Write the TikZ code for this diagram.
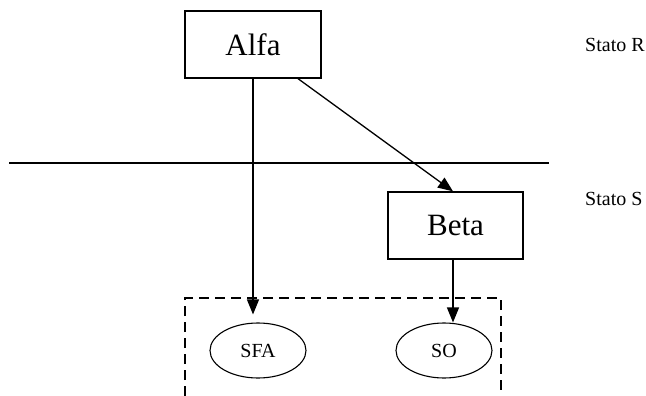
\documentclass[tikz,border=0pt]{standalone}
\usepackage{fontspec}
\setmainfont{Liberation Serif}
\usetikzlibrary{shapes.geometric}
\usetikzlibrary{arrows.meta}
\tikzset{statebox/.style={draw,line width=1.3pt,minimum width=136pt,minimum height=67pt,inner sep=0pt,font=\fontsize{31}{31}\selectfont},
         setnode/.style={draw,ellipse,line width=1.1pt,minimum width=96pt,minimum height=55pt,inner sep=0pt,font=\fontsize{20}{20}\selectfont},
         statelabel/.style={anchor=base west,inner sep=0pt,font=\fontsize{20}{20}\selectfont},
         link/.style={line width=1.3pt,-{Triangle[length=15pt,width=12pt]}},
         }

\begin{document}
\begin{tikzpicture}[x=1pt,y=-1pt]
\useasboundingbox (0,0) rectangle (646,396);
\node[statebox] (alfa) at (253,44.5) {Alfa};
\node[statebox,minimum width=135pt] (beta) at (455.5,225.5) {Beta};
\node[setnode] (sfa) at (258,350.5) {SFA};
\node[setnode] (so) at (444,350.5) {SO};
\node[statelabel] (statoR) at (585,52) {Stato R};
\node[statelabel] (statoS) at (585,205) {Stato S};
% linea di separazione
\draw[line width=1.3pt] (9,163) -- (549,163);
% area tratteggiata
\draw[line width=1.3pt,dash pattern=on 10pt off 6pt] (185,396) -- (185,298) -- (501,298) -- (501,396);
\draw[link,shorten >=8pt] (alfa.south) -- (alfa.south |- sfa.north);
\draw[link] ([xshift=45pt]alfa.south) -- ([xshift=-2.5pt]beta.north);
\draw[link] ([xshift=-2.5pt]beta.south) -- ([xshift=-2.5pt]beta.south |- so.north);
\end{tikzpicture}
\end{document}
